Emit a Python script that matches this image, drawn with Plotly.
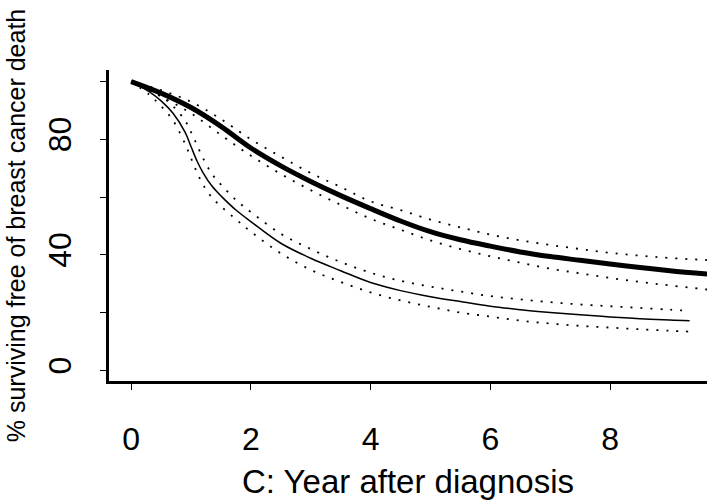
import plotly.graph_objects as go

# Group A (thick line) and its confidence band
xa = [0, 0.5, 1, 1.5, 2, 2.5, 3, 3.5, 4, 4.5, 5, 5.5, 6, 6.5, 7, 7.5, 8, 8.5, 9, 9.7]
ya = [100, 96.0, 91.0, 84.5, 77.0, 70.8, 65.4, 60.5, 56.0, 51.7, 48.0, 45.2, 43.0, 41.0, 39.4, 38.1, 36.8, 35.6, 34.5, 33.2]
ya_up = [100, 97.0, 93.0, 87.0, 80.0, 74.0, 68.3, 63.5, 58.5, 55.5, 52.2, 49.5, 47.0, 45.0, 43.4, 42.0, 40.7, 39.7, 38.9, 38.1]
ya_lo = [100, 94.8, 89.0, 81.5, 74.3, 68.0, 62.4, 57.3, 52.5, 48.7, 45.0, 42.0, 39.5, 37.3, 35.2, 33.6, 32.0, 30.6, 29.4, 27.8]

# Group B (thin line) and its confidence band
xb = [0, 0.3, 0.5, 0.7, 0.9, 1.0, 1.1, 1.2, 1.35, 1.5, 1.75, 2, 2.5, 3, 3.5, 4, 4.5, 5, 5.5, 6, 6.5, 7, 7.5, 8, 8.5, 9, 9.33]
yb = [100, 96.5, 93.3, 89.0, 82.5, 77.5, 72.5, 68.5, 63.8, 60.4, 55.5, 51.5, 44.0, 38.8, 34.5, 30.4, 27.6, 25.5, 23.8, 22.2, 21.0, 20.0, 19.2, 18.5, 17.9, 17.4, 17.2]
yb_up = [100, 97.5, 95.0, 91.5, 86.5, 82.5, 78.0, 73.5, 68.0, 64.3, 59.0, 54.8, 47.3, 42.0, 37.5, 33.8, 31.0, 29.0, 27.3, 25.7, 24.6, 23.6, 22.8, 22.2, 21.6, 21.0, 20.6]
yb_lo = [100, 95.5, 91.5, 86.5, 78.5, 73.5, 68.5, 64.3, 59.8, 56.8, 52.3, 48.0, 40.5, 34.8, 30.6, 27.0, 24.2, 22.0, 20.0, 18.6, 17.2, 16.2, 15.4, 14.8, 14.2, 13.7, 13.4]

x_ticks = [0, 2, 4, 6, 8]
y_ticks = [0, 20, 40, 60, 80, 100]
y_tick_labels = ["0", "", "40", "", "80", ""]

x_title = "C: Year after diagnosis"
y_title = "% surviving free of breast cancer death"

fig = go.Figure()

dot = dict(color="black", width=1.8, dash="2px,8px", shape="spline", smoothing=1.0)

fig.add_trace(go.Scatter(x=xa, y=ya_up, mode="lines", line=dot))
fig.add_trace(go.Scatter(x=xa, y=ya_lo, mode="lines", line=dot))
fig.add_trace(go.Scatter(x=xb, y=yb_up, mode="lines", line=dot))
fig.add_trace(go.Scatter(x=xb, y=yb_lo, mode="lines", line=dot))
fig.add_trace(go.Scatter(x=xb, y=yb, mode="lines",
                         line=dict(color="black", width=1.5, shape="spline", smoothing=1.0)))
fig.add_trace(go.Scatter(x=xa, y=ya, mode="lines",
                         line=dict(color="black", width=5, shape="spline", smoothing=1.0)))

font_family = "Liberation Sans, Arial, sans-serif"

fig.update_layout(
    width=707, height=500,
    margin=dict(l=109, r=0, t=70, b=119),
    paper_bgcolor="white", plot_bgcolor="white",
    showlegend=False,
    font=dict(family=font_family, color="black"),
    xaxis=dict(
        range=[-0.37, 9.62],
        automargin=True,
        tickvals=x_ticks,
        ticktext=[str(v) for v in x_ticks],
        ticks="outside", ticklen=6, tickwidth=1, tickcolor="black",
        showline=True, linewidth=3, linecolor="black",
        showgrid=False, zeroline=False,
        tickfont=dict(size=32),
        ticklabelstandoff=22,
        title=dict(text=x_title, font=dict(size=33), standoff=14),
    ),
    yaxis=dict(
        range=[-3.7, 104],
        automargin=True,
        tickvals=y_ticks,
        ticktext=y_tick_labels,
        tickangle=-90,
        ticks="outside", ticklen=6, tickwidth=1, tickcolor="black",
        showline=True, linewidth=3, linecolor="black",
        showgrid=False, zeroline=False,
        tickfont=dict(size=32),
        ticklabelstandoff=16,
        title=dict(text=y_title, font=dict(size=25), standoff=10),
    ),
)

fig.write_html(
    "out.html",
    config={"displayModeBar": False},
    post_script="document.body.style.margin='0';document.body.style.overflow='hidden';",
)
